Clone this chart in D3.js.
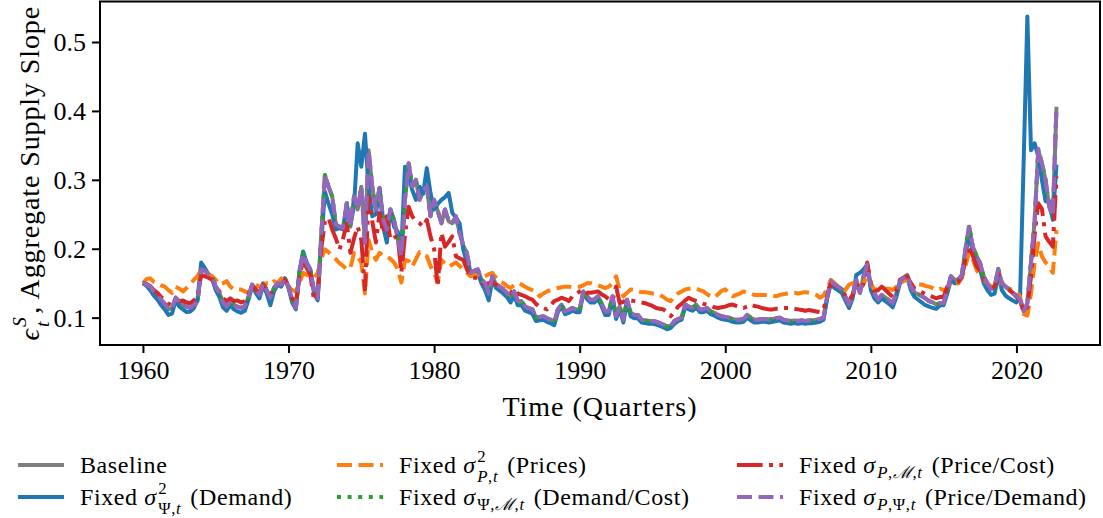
<!DOCTYPE html>
<meta charset="utf-8">
<style>

body {
  margin: 0;
  background: #fff;
}

svg text {
  font-family: "Liberation Serif", "DejaVu Serif", serif;
  fill: #000;
  white-space: pre;
}

.series path {
  fill: none;
  stroke-width: 4px;
  stroke-linejoin: round;
}

</style>

<svg width="1103" height="518"></svg>
<script src="https://d3js.org/d3.v7.min.js"></script>
<script>

// quarterly values, 1960Q1 .. 2022Q4
const firstYear = 1960;

const baseline = [
  0.151, 0.148, 0.145, 0.138, 0.133, 0.126, 0.120, 0.112, 0.114, 0.129, 0.122, 0.119, 0.116, 0.114, 0.118, 0.124,
  0.170, 0.168, 0.163, 0.160, 0.145, 0.136, 0.122, 0.116, 0.124, 0.118, 0.116, 0.114, 0.117, 0.130, 0.148, 0.140,
  0.133, 0.150, 0.140, 0.129, 0.143, 0.150, 0.148, 0.157, 0.145, 0.125, 0.114, 0.165, 0.193, 0.178, 0.168, 0.140,
  0.128, 0.220, 0.307, 0.290, 0.276, 0.235, 0.232, 0.230, 0.266, 0.232, 0.276, 0.257, 0.290, 0.209, 0.343, 0.290,
  0.257, 0.288, 0.242, 0.228, 0.257, 0.242, 0.215, 0.189, 0.271, 0.324, 0.290, 0.300, 0.271, 0.285, 0.290, 0.247,
  0.271, 0.255, 0.237, 0.257, 0.240, 0.237, 0.247, 0.223, 0.205, 0.194, 0.165, 0.168, 0.170, 0.155, 0.150, 0.135,
  0.160, 0.148, 0.145, 0.141, 0.136, 0.129, 0.138, 0.124, 0.124, 0.116, 0.114, 0.112, 0.100, 0.101, 0.102, 0.099,
  0.097, 0.093, 0.112, 0.119, 0.109, 0.111, 0.114, 0.112, 0.112, 0.138, 0.131, 0.126, 0.126, 0.131, 0.121, 0.109,
  0.109, 0.131, 0.102, 0.116, 0.097, 0.126, 0.107, 0.104, 0.104, 0.097, 0.096, 0.095, 0.095, 0.094, 0.092, 0.090,
  0.087, 0.088, 0.095, 0.098, 0.100, 0.119, 0.116, 0.114, 0.119, 0.112, 0.112, 0.114, 0.109, 0.107, 0.104, 0.102,
  0.101, 0.100, 0.098, 0.097, 0.097, 0.098, 0.104, 0.100, 0.097, 0.097, 0.098, 0.098, 0.097, 0.098, 0.099, 0.100,
  0.097, 0.096, 0.095, 0.096, 0.095, 0.096, 0.095, 0.096, 0.096, 0.097, 0.098, 0.100, 0.130, 0.153, 0.148, 0.145,
  0.141, 0.130, 0.119, 0.131, 0.155, 0.136, 0.160, 0.177, 0.145, 0.135, 0.126, 0.133, 0.129, 0.125, 0.121, 0.135,
  0.153, 0.158, 0.162, 0.145, 0.136, 0.134, 0.131, 0.128, 0.124, 0.122, 0.119, 0.121, 0.121, 0.140, 0.160, 0.155,
  0.155, 0.162, 0.199, 0.232, 0.203, 0.190, 0.179, 0.160, 0.150, 0.141, 0.145, 0.170, 0.150, 0.145, 0.141, 0.136,
  0.132, 0.126, 0.109, 0.121, 0.180, 0.240, 0.343, 0.324, 0.300, 0.261, 0.247, 0.406
];

const fixedDemand = [
  0.150, 0.146, 0.140, 0.132, 0.126, 0.118, 0.112, 0.104, 0.106, 0.125, 0.116, 0.112, 0.108, 0.109, 0.114, 0.126,
  0.180, 0.172, 0.163, 0.157, 0.140, 0.130, 0.115, 0.110, 0.118, 0.112, 0.109, 0.107, 0.110, 0.126, 0.146, 0.136,
  0.128, 0.147, 0.135, 0.118, 0.138, 0.148, 0.145, 0.157, 0.143, 0.122, 0.112, 0.168, 0.196, 0.180, 0.170, 0.135,
  0.125, 0.210, 0.283, 0.265, 0.250, 0.228, 0.230, 0.228, 0.262, 0.235, 0.262, 0.353, 0.319, 0.367, 0.290, 0.247,
  0.250, 0.288, 0.232, 0.209, 0.257, 0.232, 0.225, 0.200, 0.319, 0.305, 0.285, 0.271, 0.290, 0.280, 0.317, 0.281,
  0.257, 0.265, 0.271, 0.275, 0.281, 0.252, 0.245, 0.237, 0.199, 0.180, 0.165, 0.160, 0.165, 0.150, 0.140, 0.125,
  0.155, 0.143, 0.139, 0.135, 0.130, 0.122, 0.132, 0.118, 0.118, 0.110, 0.108, 0.106, 0.095, 0.096, 0.097, 0.094,
  0.092, 0.089, 0.108, 0.116, 0.105, 0.107, 0.110, 0.108, 0.108, 0.136, 0.127, 0.122, 0.122, 0.127, 0.117, 0.104,
  0.104, 0.128, 0.098, 0.112, 0.093, 0.122, 0.102, 0.099, 0.099, 0.093, 0.092, 0.091, 0.091, 0.090, 0.088, 0.086,
  0.083, 0.085, 0.091, 0.095, 0.097, 0.116, 0.112, 0.110, 0.115, 0.108, 0.108, 0.110, 0.105, 0.103, 0.100, 0.098,
  0.097, 0.096, 0.094, 0.093, 0.093, 0.094, 0.100, 0.096, 0.093, 0.093, 0.094, 0.094, 0.093, 0.094, 0.095, 0.096,
  0.093, 0.092, 0.091, 0.092, 0.091, 0.092, 0.091, 0.092, 0.092, 0.093, 0.094, 0.097, 0.128, 0.150, 0.143, 0.140,
  0.136, 0.125, 0.114, 0.128, 0.162, 0.165, 0.170, 0.177, 0.140, 0.128, 0.122, 0.128, 0.124, 0.120, 0.115, 0.130,
  0.150, 0.155, 0.158, 0.140, 0.130, 0.126, 0.122, 0.118, 0.116, 0.114, 0.113, 0.118, 0.118, 0.135, 0.155, 0.150,
  0.150, 0.158, 0.190, 0.222, 0.195, 0.180, 0.170, 0.150, 0.140, 0.133, 0.135, 0.162, 0.140, 0.132, 0.128, 0.125,
  0.122, 0.130, 0.330, 0.537, 0.343, 0.353, 0.334, 0.300, 0.269, 0.269, 0.242, 0.322
];

const fixedPrices = [
  0.150, 0.156, 0.157, 0.152, 0.150, 0.147, 0.145, 0.140, 0.136, 0.145, 0.142, 0.138, 0.143, 0.148, 0.155, 0.160,
  0.170, 0.166, 0.162, 0.160, 0.155, 0.148, 0.150, 0.153, 0.145, 0.141, 0.141, 0.141, 0.138, 0.136, 0.143, 0.148,
  0.145, 0.143, 0.150, 0.148, 0.153, 0.150, 0.157, 0.153, 0.145, 0.140, 0.138, 0.150, 0.165, 0.162, 0.160, 0.158,
  0.165, 0.185, 0.199, 0.195, 0.189, 0.185, 0.179, 0.175, 0.170, 0.172, 0.194, 0.188, 0.180, 0.135, 0.213, 0.195,
  0.184, 0.194, 0.190, 0.189, 0.185, 0.180, 0.170, 0.151, 0.184, 0.182, 0.174, 0.185, 0.195, 0.192, 0.189, 0.175,
  0.165, 0.151, 0.184, 0.178, 0.174, 0.177, 0.180, 0.175, 0.170, 0.165, 0.160, 0.162, 0.162, 0.158, 0.160, 0.163,
  0.165, 0.158, 0.152, 0.150, 0.146, 0.143, 0.147, 0.150, 0.148, 0.145, 0.142, 0.140, 0.138, 0.131, 0.135, 0.138,
  0.140, 0.142, 0.143, 0.144, 0.145, 0.145, 0.144, 0.145, 0.145, 0.147, 0.150, 0.150, 0.148, 0.147, 0.145, 0.143,
  0.145, 0.150, 0.160, 0.140, 0.131, 0.136, 0.141, 0.140, 0.138, 0.137, 0.137, 0.136, 0.135, 0.134, 0.133, 0.130,
  0.126, 0.124, 0.131, 0.135, 0.138, 0.141, 0.142, 0.143, 0.142, 0.140, 0.138, 0.134, 0.131, 0.129, 0.134, 0.139,
  0.141, 0.136, 0.131, 0.133, 0.135, 0.138, 0.136, 0.135, 0.133, 0.133, 0.133, 0.133, 0.133, 0.132, 0.131, 0.133,
  0.134, 0.135, 0.136, 0.136, 0.135, 0.136, 0.137, 0.136, 0.135, 0.133, 0.129, 0.132, 0.142, 0.155, 0.150, 0.146,
  0.145, 0.140, 0.148, 0.150, 0.145, 0.140, 0.150, 0.160, 0.150, 0.140, 0.142, 0.145, 0.142, 0.142, 0.140, 0.145,
  0.150, 0.153, 0.155, 0.148, 0.145, 0.148, 0.148, 0.146, 0.145, 0.143, 0.140, 0.142, 0.140, 0.142, 0.152, 0.150,
  0.150, 0.158, 0.175, 0.195, 0.185, 0.170, 0.160, 0.155, 0.150, 0.145, 0.148, 0.150, 0.150, 0.145, 0.142, 0.140,
  0.138, 0.130, 0.105, 0.103, 0.135, 0.180, 0.208, 0.189, 0.180, 0.174, 0.165, 0.227
];

const fixedDemandCost = [
  0.151, 0.148, 0.145, 0.138, 0.133, 0.126, 0.120, 0.112, 0.114, 0.129, 0.122, 0.119, 0.116, 0.114, 0.118, 0.124,
  0.170, 0.168, 0.163, 0.160, 0.145, 0.136, 0.122, 0.116, 0.124, 0.118, 0.116, 0.114, 0.117, 0.130, 0.148, 0.140,
  0.133, 0.150, 0.140, 0.129, 0.143, 0.150, 0.148, 0.157, 0.145, 0.125, 0.114, 0.165, 0.193, 0.178, 0.168, 0.140,
  0.128, 0.220, 0.307, 0.290, 0.276, 0.235, 0.232, 0.230, 0.266, 0.232, 0.276, 0.257, 0.290, 0.209, 0.343, 0.290,
  0.257, 0.288, 0.242, 0.228, 0.257, 0.242, 0.215, 0.189, 0.271, 0.326, 0.290, 0.300, 0.271, 0.285, 0.290, 0.247,
  0.271, 0.255, 0.237, 0.257, 0.240, 0.237, 0.247, 0.223, 0.205, 0.194, 0.165, 0.168, 0.170, 0.155, 0.150, 0.135,
  0.160, 0.148, 0.145, 0.141, 0.136, 0.129, 0.138, 0.124, 0.124, 0.116, 0.114, 0.112, 0.100, 0.101, 0.102, 0.099,
  0.097, 0.093, 0.112, 0.119, 0.109, 0.111, 0.114, 0.112, 0.112, 0.138, 0.131, 0.126, 0.126, 0.131, 0.121, 0.109,
  0.109, 0.131, 0.102, 0.116, 0.097, 0.126, 0.107, 0.104, 0.104, 0.097, 0.096, 0.095, 0.095, 0.094, 0.092, 0.090,
  0.087, 0.088, 0.095, 0.098, 0.100, 0.119, 0.116, 0.114, 0.119, 0.112, 0.112, 0.114, 0.109, 0.107, 0.104, 0.102,
  0.101, 0.100, 0.098, 0.097, 0.097, 0.098, 0.104, 0.100, 0.097, 0.097, 0.098, 0.098, 0.097, 0.098, 0.099, 0.100,
  0.097, 0.096, 0.095, 0.096, 0.095, 0.096, 0.095, 0.096, 0.096, 0.097, 0.098, 0.100, 0.130, 0.153, 0.148, 0.145,
  0.141, 0.130, 0.119, 0.131, 0.155, 0.136, 0.160, 0.177, 0.145, 0.135, 0.126, 0.133, 0.129, 0.125, 0.121, 0.135,
  0.153, 0.158, 0.162, 0.145, 0.136, 0.134, 0.131, 0.128, 0.124, 0.122, 0.119, 0.121, 0.121, 0.140, 0.160, 0.155,
  0.155, 0.162, 0.199, 0.234, 0.203, 0.190, 0.179, 0.160, 0.150, 0.141, 0.145, 0.171, 0.150, 0.145, 0.141, 0.136,
  0.132, 0.126, 0.109, 0.121, 0.180, 0.240, 0.343, 0.324, 0.300, 0.261, 0.247, 0.406
];

const fixedPriceCost = [
  0.150, 0.149, 0.146, 0.140, 0.136, 0.130, 0.126, 0.120, 0.118, 0.128, 0.124, 0.125, 0.122, 0.121, 0.125, 0.130,
  0.162, 0.160, 0.158, 0.155, 0.146, 0.138, 0.128, 0.124, 0.128, 0.124, 0.125, 0.122, 0.124, 0.134, 0.147, 0.141,
  0.136, 0.148, 0.140, 0.133, 0.144, 0.149, 0.148, 0.155, 0.145, 0.128, 0.120, 0.160, 0.182, 0.172, 0.162, 0.125,
  0.135, 0.200, 0.240, 0.245, 0.228, 0.215, 0.199, 0.215, 0.237, 0.194, 0.215, 0.232, 0.213, 0.141, 0.276, 0.240,
  0.209, 0.252, 0.223, 0.247, 0.213, 0.216, 0.218, 0.165, 0.220, 0.261, 0.247, 0.240, 0.237, 0.232, 0.242, 0.218,
  0.200, 0.145, 0.223, 0.203, 0.210, 0.218, 0.189, 0.186, 0.184, 0.170, 0.160, 0.158, 0.158, 0.152, 0.148, 0.150,
  0.152, 0.148, 0.145, 0.142, 0.138, 0.136, 0.141, 0.135, 0.133, 0.131, 0.128, 0.126, 0.120, 0.116, 0.114, 0.112,
  0.118, 0.124, 0.126, 0.129, 0.127, 0.124, 0.131, 0.134, 0.138, 0.141, 0.136, 0.136, 0.137, 0.138, 0.134, 0.131,
  0.127, 0.124, 0.145, 0.121, 0.123, 0.126, 0.125, 0.124, 0.123, 0.122, 0.121, 0.119, 0.117, 0.114, 0.113, 0.112,
  0.108, 0.102, 0.108, 0.116, 0.120, 0.125, 0.129, 0.126, 0.124, 0.122, 0.120, 0.119, 0.117, 0.115, 0.114, 0.115,
  0.116, 0.118, 0.119, 0.117, 0.115, 0.114, 0.116, 0.119, 0.117, 0.116, 0.114, 0.113, 0.112, 0.112, 0.113, 0.113,
  0.114, 0.114, 0.114, 0.113, 0.112, 0.111, 0.110, 0.111, 0.110, 0.109, 0.108, 0.112, 0.132, 0.150, 0.147, 0.145,
  0.140, 0.132, 0.125, 0.133, 0.150, 0.138, 0.150, 0.180, 0.150, 0.138, 0.140, 0.145, 0.140, 0.135, 0.130, 0.140,
  0.155, 0.158, 0.160, 0.150, 0.142, 0.140, 0.137, 0.134, 0.132, 0.130, 0.128, 0.130, 0.130, 0.145, 0.158, 0.152,
  0.152, 0.160, 0.185, 0.205, 0.190, 0.175, 0.168, 0.155, 0.148, 0.142, 0.145, 0.165, 0.150, 0.145, 0.140, 0.136,
  0.130, 0.125, 0.108, 0.115, 0.160, 0.220, 0.266, 0.258, 0.218, 0.210, 0.203, 0.305
];

const fixedPriceDemand = [
  0.151, 0.148, 0.145, 0.138, 0.133, 0.126, 0.120, 0.112, 0.114, 0.129, 0.122, 0.119, 0.116, 0.114, 0.118, 0.124,
  0.170, 0.168, 0.163, 0.160, 0.145, 0.136, 0.122, 0.116, 0.124, 0.118, 0.116, 0.114, 0.117, 0.130, 0.148, 0.140,
  0.133, 0.150, 0.140, 0.129, 0.143, 0.150, 0.148, 0.157, 0.145, 0.125, 0.114, 0.165, 0.193, 0.178, 0.168, 0.140,
  0.128, 0.220, 0.307, 0.290, 0.276, 0.235, 0.232, 0.230, 0.266, 0.232, 0.276, 0.257, 0.290, 0.209, 0.343, 0.290,
  0.257, 0.288, 0.242, 0.228, 0.257, 0.242, 0.215, 0.189, 0.271, 0.324, 0.290, 0.300, 0.271, 0.285, 0.290, 0.247,
  0.271, 0.255, 0.237, 0.257, 0.240, 0.237, 0.247, 0.223, 0.205, 0.194, 0.165, 0.168, 0.170, 0.155, 0.150, 0.135,
  0.160, 0.148, 0.145, 0.141, 0.136, 0.129, 0.138, 0.124, 0.124, 0.116, 0.114, 0.112, 0.100, 0.101, 0.102, 0.099,
  0.097, 0.093, 0.112, 0.119, 0.109, 0.111, 0.114, 0.112, 0.112, 0.138, 0.131, 0.126, 0.126, 0.131, 0.121, 0.109,
  0.109, 0.131, 0.102, 0.116, 0.097, 0.126, 0.107, 0.104, 0.104, 0.097, 0.096, 0.095, 0.095, 0.094, 0.092, 0.090,
  0.087, 0.088, 0.095, 0.098, 0.100, 0.119, 0.116, 0.114, 0.119, 0.112, 0.112, 0.114, 0.109, 0.107, 0.104, 0.102,
  0.101, 0.100, 0.098, 0.097, 0.097, 0.098, 0.104, 0.100, 0.097, 0.097, 0.098, 0.098, 0.097, 0.098, 0.099, 0.100,
  0.097, 0.096, 0.095, 0.096, 0.095, 0.096, 0.095, 0.096, 0.096, 0.097, 0.098, 0.100, 0.130, 0.153, 0.148, 0.145,
  0.141, 0.130, 0.119, 0.131, 0.155, 0.136, 0.160, 0.177, 0.145, 0.135, 0.126, 0.133, 0.129, 0.125, 0.121, 0.135,
  0.153, 0.158, 0.162, 0.145, 0.136, 0.134, 0.131, 0.128, 0.124, 0.122, 0.119, 0.121, 0.121, 0.140, 0.160, 0.155,
  0.155, 0.162, 0.199, 0.232, 0.203, 0.190, 0.179, 0.160, 0.150, 0.141, 0.145, 0.170, 0.150, 0.145, 0.141, 0.136,
  0.132, 0.126, 0.109, 0.121, 0.180, 0.240, 0.345, 0.324, 0.300, 0.261, 0.247, 0.406
];

const xTicks = [1960, 1970, 1980, 1990, 2000, 2010, 2020];
const yTicks = [0.1, 0.2, 0.3, 0.4, 0.5];

// label pieces: plain string = roman, {it: ".."} = italic, {sup, sub} = stacked scripts
const series = [
  { values: baseline, color: "#7f7f7f", dash: null,
    label: ["Baseline"] },
  { values: fixedDemand, color: "#1f77b4", dash: null,
    label: ["Fixed ", {it: "σ"}, {sup: ["2"], sub: ["Ψ,", {it: "t"}]}, " (Demand)"] },
  { values: fixedPrices, color: "#ff7f0e", dash: "15,6.5",
    label: ["Fixed ", {it: "σ"}, {sup: ["2"], sub: [{it: "P"}, ",", {it: "t"}]}, " (Prices)"] },
  { values: fixedDemandCost, color: "#2ca02c", dash: "4,6.6",
    label: ["Fixed ", {it: "σ"}, {sub: ["Ψ,", {it: "ℳ"}, ",", {it: "t"}]}, " (Demand/Cost)"] },
  { values: fixedPriceCost, color: "#d62728", dash: "25.6,6.4,4,6.4",
    label: ["Fixed ", {it: "σ"}, {sub: [{it: "P"}, ",", {it: "ℳ"}, ",", {it: "t"}]}, " (Price/Cost)"] },
  { values: fixedPriceDemand, color: "#9467bd", dash: "15,6.5",
    label: ["Fixed ", {it: "σ"}, {sub: [{it: "P"}, ",Ψ,", {it: "t"}]}, " (Price/Demand)"] }
];

const svg = d3.select("svg");
const plotL = 100, plotR = 1100, plotT = 1.5, plotB = 345;

const x = d3.scaleLinear().domain([1957.05, 2025.74]).range([plotL, plotR]);
const y = d3.scaleLinear().domain([0.0603, 0.5588]).range([plotB, plotT]);

// small helper for text with italics and sub/superscripts
function runs(g, px, py, items, size, spacing) {
  const t = g.append("text").attr("x", px).attr("y", py)
    .attr("font-size", size).attr("letter-spacing", spacing || 0);
  items.forEach(r => {
    const it = typeof r !== "string";
    t.append("tspan").attr("font-style", it ? "italic" : "normal").text(it ? r.it : r);
  });
  return t.node().getComputedTextLength();
}

function mathText(g, px, py, parts, size, spacing) {
  let cx = px;
  parts.forEach(p => {
    const scripts = typeof p === "object" && (p.sup || p.sub);
    if (scripts) {
      let w = 0;
      if (p.sup) w = Math.max(w, runs(g, cx + 1.5, py - 0.45 * size, p.sup, 0.7 * size, spacing));
      if (p.sub) w = Math.max(w, runs(g, cx + 1.5, py + (p.sup ? 0.36 : 0.22) * size, p.sub, 0.7 * size, spacing));
      cx += w + 4;
    } else {
      cx += runs(g, cx, py, [p], size, spacing);
    }
  });
  return cx - px;
}

svg.append("defs").append("clipPath").attr("id", "plot")
  .append("rect").attr("x", plotL).attr("y", plotT).attr("width", plotR - plotL).attr("height", plotB - plotT);

const line = d3.line()
  .x((d, i) => x(firstYear + i / 4))
  .y(d => y(d));

svg.append("g")
    .attr("class", "series")
    .attr("clip-path", "url(#plot)")
  .selectAll("path")
  .data(series)
  .enter().append("path")
    .attr("d", d => line(d.values))
    .attr("stroke", d => d.color)
    .attr("stroke-dasharray", d => d.dash);

// axes
const xAxis = svg.append("g")
  .attr("transform", `translate(0,${plotB})`)
  .call(d3.axisBottom(x).tickValues(xTicks).tickFormat(d3.format("d")).tickSize(8).tickPadding(8));

const yAxis = svg.append("g")
  .attr("transform", `translate(${plotL},0)`)
  .call(d3.axisLeft(y).tickValues(yTicks).tickFormat(d3.format(".1f")).tickSize(8).tickPadding(6));

[xAxis, yAxis].forEach(a => {
  a.select(".domain").remove();
  a.selectAll(".tick line").attr("stroke", "#000").attr("stroke-width", 2);
  a.selectAll(".tick text").attr("font-size", 26).attr("font-family", null);
});
yAxis.selectAll(".tick text").attr("dy", "0.34em");

svg.append("rect")
  .attr("x", plotL).attr("y", plotT)
  .attr("width", plotR - plotL).attr("height", plotB - plotT)
  .attr("fill", "none").attr("stroke", "#000").attr("stroke-width", 2);

// axis titles
svg.append("text")
  .attr("x", (plotL + plotR) / 2).attr("y", 416)
  .attr("text-anchor", "middle").attr("font-size", 28)
  .attr("letter-spacing", 1)
  .text("Time (Quarters)");

const yl = svg.append("g");
const ylw = mathText(yl, 0, 0, [{it: "ϵ"}, {sup: [{it: "S"}], sub: [{it: "t"}]}, ", Aggregate Supply Slope"], 28, 0.9);
yl.attr("transform", `translate(39,${(plotT + plotB) / 2 + ylw / 2}) rotate(-90)`);

// legend, three columns filled column-wise
const colX = [18, 337, 737];
const rowY = [465, 497];
const legend = svg.append("g");
series.forEach((s, i) => {
  const cx = colX[Math.floor(i / 2)], cy = rowY[i % 2];
  legend.append("line")
    .attr("x1", cx).attr("x2", cx + 46)
    .attr("y1", cy).attr("y2", cy)
    .attr("stroke", s.color).attr("stroke-width", 4)
    .attr("stroke-dasharray", s.dash);
  mathText(legend, cx + 62, cy + 8, s.label, 24, 0.6);
});

</script>
